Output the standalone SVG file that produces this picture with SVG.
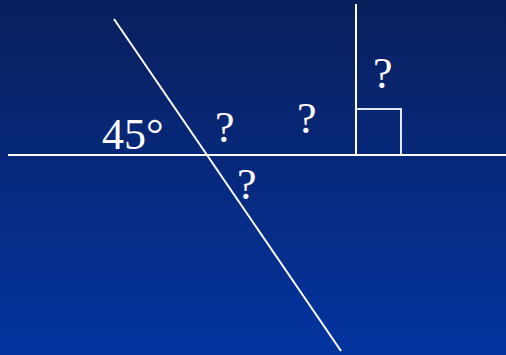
<svg xmlns="http://www.w3.org/2000/svg" width="506" height="355" viewBox="0 0 506 355">
<defs>
<linearGradient id="bg" x1="0" y1="0" x2="0" y2="1">
<stop offset="0" stop-color="#0a1f5c"/>
<stop offset="1" stop-color="#0334a0"/>
</linearGradient>
<style>
.ln{stroke:#ffffff;stroke-width:2;fill:none}
.sq{stroke:#e6e8f0;stroke-width:2;fill:none}
.t{font-family:"Liberation Serif","Times New Roman",serif;fill:#ffffff}
.q{font-size:44px}
</style>
</defs>
<rect x="0" y="0" width="506" height="355" fill="url(#bg)"/>
<g id="connectors">
<line class="ln" x1="8" y1="155" x2="506" y2="155"/>
<line class="ln" x1="114" y1="19" x2="341" y2="351"/>
<line class="ln" x1="356" y1="4" x2="356" y2="155"/>
</g>
<g id="right-angle">
<polyline class="sq" points="356,109 401,109 401,155"/>
</g>
<g id="labels">
<text class="t" x="102" y="149" font-size="44">45°</text>
<text class="t q" x="215" y="142">?</text>
<text class="t q" x="297" y="133">?</text>
<text class="t q" x="373" y="88">?</text>
<text class="t q" x="237" y="199">?</text>
</g>
</svg>
